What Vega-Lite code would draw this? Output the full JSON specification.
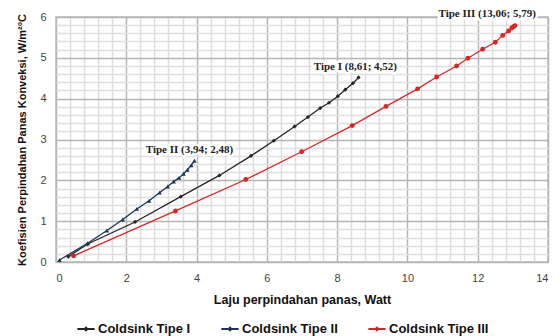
{
  "$schema": "https://vega.github.io/schema/vega-lite/v6.json",
  "width": 492,
  "height": 245,
  "autosize": "none",
  "padding": {"left": 56, "top": 17, "right": 12, "bottom": 74},
  "background": "white",
  "config": {
    "view": {"stroke": "#bbbbbb", "strokeWidth": 1.5},
    "font": "Liberation Sans"
  },
  "datasets": {
    "pts": [
      {"s": "Coldsink Tipe I", "x": 0.35, "y": 0.13},
      {"s": "Coldsink Tipe I", "x": 0.9, "y": 0.44},
      {"s": "Coldsink Tipe I", "x": 2.25, "y": 0.98},
      {"s": "Coldsink Tipe I", "x": 3.55, "y": 1.6},
      {"s": "Coldsink Tipe I", "x": 4.65, "y": 2.12},
      {"s": "Coldsink Tipe I", "x": 5.55, "y": 2.6},
      {"s": "Coldsink Tipe I", "x": 6.2, "y": 2.97},
      {"s": "Coldsink Tipe I", "x": 6.79, "y": 3.32},
      {"s": "Coldsink Tipe I", "x": 7.17, "y": 3.55},
      {"s": "Coldsink Tipe I", "x": 7.52, "y": 3.77},
      {"s": "Coldsink Tipe I", "x": 7.77, "y": 3.9},
      {"s": "Coldsink Tipe I", "x": 8.02, "y": 4.06},
      {"s": "Coldsink Tipe I", "x": 8.23, "y": 4.22},
      {"s": "Coldsink Tipe I", "x": 8.45, "y": 4.38},
      {"s": "Coldsink Tipe I", "x": 8.61, "y": 4.52},
      {"s": "Coldsink Tipe II", "x": 0.1, "y": 0.05},
      {"s": "Coldsink Tipe II", "x": 0.9, "y": 0.46},
      {"s": "Coldsink Tipe II", "x": 1.45, "y": 0.77},
      {"s": "Coldsink Tipe II", "x": 1.9, "y": 1.04},
      {"s": "Coldsink Tipe II", "x": 2.3, "y": 1.3},
      {"s": "Coldsink Tipe II", "x": 2.65, "y": 1.5},
      {"s": "Coldsink Tipe II", "x": 2.95, "y": 1.7},
      {"s": "Coldsink Tipe II", "x": 3.18, "y": 1.85},
      {"s": "Coldsink Tipe II", "x": 3.35, "y": 1.97},
      {"s": "Coldsink Tipe II", "x": 3.5, "y": 2.06},
      {"s": "Coldsink Tipe II", "x": 3.63, "y": 2.16},
      {"s": "Coldsink Tipe II", "x": 3.74, "y": 2.26},
      {"s": "Coldsink Tipe II", "x": 3.85, "y": 2.37},
      {"s": "Coldsink Tipe II", "x": 3.94, "y": 2.48},
      {"s": "Coldsink Tipe III", "x": 0.5, "y": 0.15},
      {"s": "Coldsink Tipe III", "x": 3.4, "y": 1.25},
      {"s": "Coldsink Tipe III", "x": 5.4, "y": 2.02},
      {"s": "Coldsink Tipe III", "x": 6.99, "y": 2.7},
      {"s": "Coldsink Tipe III", "x": 8.43, "y": 3.34},
      {"s": "Coldsink Tipe III", "x": 9.39, "y": 3.81},
      {"s": "Coldsink Tipe III", "x": 10.29, "y": 4.24},
      {"s": "Coldsink Tipe III", "x": 10.83, "y": 4.53},
      {"s": "Coldsink Tipe III", "x": 11.4, "y": 4.8},
      {"s": "Coldsink Tipe III", "x": 11.72, "y": 4.99},
      {"s": "Coldsink Tipe III", "x": 12.14, "y": 5.21},
      {"s": "Coldsink Tipe III", "x": 12.5, "y": 5.38},
      {"s": "Coldsink Tipe III", "x": 12.71, "y": 5.55},
      {"s": "Coldsink Tipe III", "x": 12.88, "y": 5.66},
      {"s": "Coldsink Tipe III", "x": 12.97, "y": 5.73},
      {"s": "Coldsink Tipe III", "x": 13.02, "y": 5.76},
      {"s": "Coldsink Tipe III", "x": 13.06, "y": 5.79}
    ],
    "labels": [
      {"t": "Tipe II (3,94; 2,48)", "x": 3.8, "y": 2.75},
      {"t": "Tipe I (8,61; 4,52)", "x": 8.52, "y": 4.78},
      {"t": "Tipe III (13,06; 5,79)", "x": 12.27, "y": 6.08}
    ]
  },
  "encoding": {
    "x": {
      "field": "x", "type": "quantitative",
      "scale": {"domain": [0, 14], "nice": false},
      "axis": {
        "values": [0, 0.4, 0.8, 1.2, 1.6, 2, 2.4, 2.8, 3.2, 3.6, 4, 4.4, 4.8, 5.2, 5.6, 6, 6.4, 6.8, 7.2, 7.6, 8, 8.4, 8.8, 9.2, 9.6, 10, 10.4, 10.8, 11.2, 11.6, 12, 12.4, 12.8, 13.2, 13.6, 14],
        "labelExpr": "datum.value % 2 === 0 ? '' + datum.value : ''",
        "ticks": false, "domain": false,
        "gridColor": {"condition": {"test": "datum.value % 2 === 0", "value": "#b5b5b5"}, "value": "#dddddd"},
        "gridWidth": 1.5,
        "labelFont": "Liberation Sans", "labelFontSize": 11, "labelColor": "#444444", "labelPadding": 10,
        "title": "Laju perpindahan panas, Watt",
        "titleFont": "Liberation Sans", "titleFontSize": 12.5, "titleFontWeight": "bold", "titleColor": "#111111", "titlePadding": 10
      }
    },
    "y": {
      "field": "y", "type": "quantitative",
      "scale": {"domain": [0, 6], "nice": false},
      "axis": {
        "values": [0, 0.2, 0.4, 0.6, 0.8, 1, 1.2, 1.4, 1.6, 1.8, 2, 2.2, 2.4, 2.6, 2.8, 3, 3.2, 3.4, 3.6, 3.8, 4, 4.2, 4.4, 4.6, 4.8, 5, 5.2, 5.4, 5.6, 5.8, 6],
        "labelExpr": "datum.value % 1 === 0 ? '' + datum.value : ''",
        "ticks": false, "domain": false,
        "gridColor": {"condition": {"test": "datum.value % 1 === 0", "value": "#b5b5b5"}, "value": "#e0e0e0"},
        "gridWidth": 1.5,
        "labelFont": "Liberation Sans", "labelFontSize": 11, "labelColor": "#444444", "labelPadding": 10,
        "title": "Koefisien Perpindahan  Panas Konveksi, W/m²°C",
        "titleFont": "Liberation Sans", "titleFontSize": 11, "titleFontWeight": "bold", "titleColor": "#111111", "titlePadding": 12
      }
    }
  },
  "layer": [
    {
      "data": {"name": "pts"},
      "mark": {"type": "line", "strokeWidth": 1.3},
      "encoding": {
        "color": {"field": "s", "type": "nominal",
          "scale": {"domain": ["Coldsink Tipe I", "Coldsink Tipe II", "Coldsink Tipe III"], "range": ["#262626", "#1c3557", "#d62728"]},
          "legend": {
            "orient": "none", "legendX": 20, "legendY": 302, "direction": "horizontal", "title": null,
            "labelFont": "Liberation Sans", "labelFontSize": 13, "labelFontWeight": "bold", "labelColor": "#111111",
            "columnPadding": 26, "labelOffset": 2,
            "symbolType": "M-1,0H1M-0.16,0L0,-0.16L0.16,0L0,0.16Z", "symbolSize": 300, "symbolStrokeWidth": 2
          }
        }
      }
    },
    {
      "data": {"name": "pts"},
      "transform": [{"filter": "datum.s === 'Coldsink Tipe I'"}],
      "mark": {"type": "point", "filled": true, "size": 18, "opacity": 1, "shape": "diamond", "color": "#262626"}
    },
    {
      "data": {"name": "pts"},
      "transform": [{"filter": "datum.s === 'Coldsink Tipe II'"}],
      "mark": {"type": "point", "filled": true, "size": 20, "opacity": 1, "shape": "triangle-up", "color": "#1c3557"}
    },
    {
      "data": {"name": "pts"},
      "transform": [{"filter": "datum.s === 'Coldsink Tipe III'"}],
      "mark": {"type": "point", "filled": true, "size": 24, "opacity": 1, "shape": "circle", "color": "#d62728"}
    },
    {
      "data": {"name": "labels"},
      "mark": {"type": "text", "font": "Liberation Serif", "fontWeight": "bold", "fontSize": 11, "stroke": "white", "strokeWidth": 5, "strokeJoin": "round", "color": "#222222"},
      "encoding": {
        "text": {"field": "t"}
      }
    },
    {
      "data": {"name": "labels"},
      "mark": {"type": "text", "font": "Liberation Serif", "fontWeight": "bold", "fontSize": 11, "color": "#222222"},
      "encoding": {
        "text": {"field": "t"}
      }
    }
  ]
}
